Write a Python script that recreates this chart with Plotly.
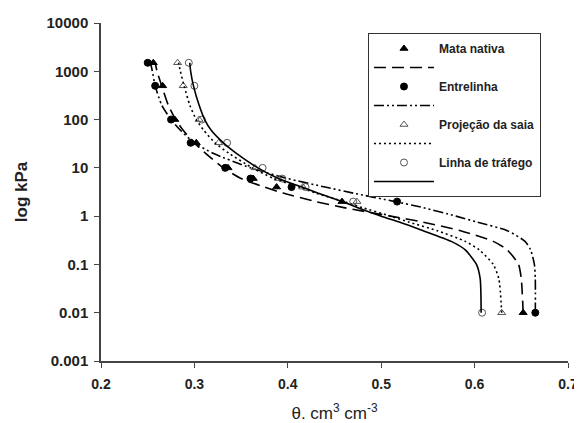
import plotly.graph_objects as go

# Observed points: matric potential (kPa) and water content (cm3 cm-3)
h_obs = [0.01, 2, 4, 6, 10, 33, 100, 500, 1500]
theta_mata = [0.652, 0.458, 0.388, 0.363, 0.336, 0.302, 0.279, 0.266, 0.256]
theta_entre = [0.665, 0.517, 0.404, 0.360, 0.333, 0.296, 0.275, 0.258, 0.250]
theta_saia = [0.629, 0.474, 0.416, 0.390, 0.365, 0.326, 0.305, 0.288, 0.282]
theta_traf = [0.608, 0.470, 0.419, 0.394, 0.373, 0.335, 0.308, 0.300, 0.294]

# Fitted curves
h_curve = [0.01, 0.05, 0.1, 0.2, 0.3, 0.5, 0.75, 1, 1.5, 2, 3, 4, 6, 10, 20, 33, 60, 100, 200, 500, 1000, 1500]
curve_mata = [0.652, 0.650, 0.647, 0.635, 0.620, 0.585, 0.545, 0.510, 0.460, 0.430, 0.395, 0.375, 0.350, 0.331, 0.312, 0.300, 0.288, 0.280, 0.272, 0.265, 0.260, 0.258]
curve_entre = [0.665, 0.665, 0.664, 0.660, 0.654, 0.635, 0.603, 0.580, 0.545, 0.515, 0.470, 0.440, 0.400, 0.360, 0.320, 0.300, 0.285, 0.275, 0.265, 0.258, 0.255, 0.253]
curve_saia = [0.629, 0.626, 0.620, 0.605, 0.590, 0.560, 0.530, 0.510, 0.480, 0.460, 0.430, 0.412, 0.385, 0.362, 0.337, 0.322, 0.310, 0.302, 0.295, 0.289, 0.285, 0.283]
curve_traf = [0.607, 0.606, 0.602, 0.590, 0.575, 0.545, 0.520, 0.500, 0.475, 0.458, 0.432, 0.415, 0.390, 0.368, 0.345, 0.331, 0.318, 0.311, 0.305, 0.299, 0.296, 0.295]

names = ["Mata nativa", "Entrelinha", "Projeção da saia", "Linha de tráfego"]
obs = [theta_mata, theta_entre, theta_saia, theta_traf]
curves = [curve_mata, curve_entre, curve_saia, curve_traf]
symbols = ["triangle-up", "circle", "triangle-up-open", "circle-open"]
mcolors = ["black", "black", "#555555", "#555555"]
dashes = ["12px,6px", "10px,3px,2px,3px,2px,3px", "2px,3px", "solid"]

x_ticks = [0.2, 0.3, 0.4, 0.5, 0.6, 0.7]
y_ticks = [0.001, 0.01, 0.1, 1, 10, 100, 1000, 10000]
y_tick_text = ["0.001", "0.01", "0.1", "1", "10", "100", "1000", "10000"]

FONT = "Arial, Liberation Sans, sans-serif"

fig = go.Figure()
for i in range(4):
    fig.add_trace(go.Scatter(
        x=obs[i], y=h_obs, mode="markers", name=names[i],
        marker=dict(symbol=symbols[i], size=7, color=mcolors[i],
                    line=dict(color=mcolors[i], width=1)),
    ))
    fig.add_trace(go.Scatter(
        x=curves[i], y=h_curve, mode="lines", name=" ",
        line=dict(color="black", width=1.6, dash=dashes[i], shape="spline", smoothing=0.6),
    ))

# page body has an 8px default margin, so the figure is sized to fill the rest of the window
fig.update_layout(
    width=574, height=415,
    margin=dict(l=93, r=14, t=15, b=62),
    paper_bgcolor="white", plot_bgcolor="white",
    font=dict(family=FONT, color="#222222", size=12),
    showlegend=True,
    legend=dict(
        x=0.5717, y=0.9704, xanchor="left", yanchor="top",
        bordercolor="#333333", borderwidth=1, bgcolor="white",
        font=dict(family=FONT, size=12, color="#222222", weight="bold"),
        tracegroupgap=0, itemwidth=60, entrywidth=180, entrywidthmode="pixels",
    ),
    xaxis=dict(
        range=[0.2, 0.7], tickvals=x_ticks, ticktext=[f"{v:.1f}" for v in x_ticks],
        showgrid=False, zeroline=False, showline=True, linecolor="#444444", linewidth=1.5,
        ticks="outside", ticklen=5, tickcolor="#444444", automargin=False,
        ticklabelstandoff=4,
        tickfont=dict(family=FONT, size=14, color="#222222", weight="bold"),
        title=dict(text="θ. cm<sup>3</sup> cm<sup>-3</sup>", standoff=19,
                   font=dict(family=FONT, size=17, color="#222222")),
    ),
    yaxis=dict(
        type="log", range=[-3, 4], tickvals=y_ticks, ticktext=y_tick_text,
        showgrid=False, zeroline=False, showline=True, linecolor="#444444", linewidth=1.5,
        ticks="outside", ticklen=5, tickcolor="#444444", automargin=False,
        ticklabelstandoff=3,
        tickfont=dict(family=FONT, size=15, color="#222222", weight="bold"),
        title=dict(text="log kPa", standoff=15,
                   font=dict(family=FONT, size=17, color="#222222", weight="bold")),
    ),
)

fig.write_html("out.html")
